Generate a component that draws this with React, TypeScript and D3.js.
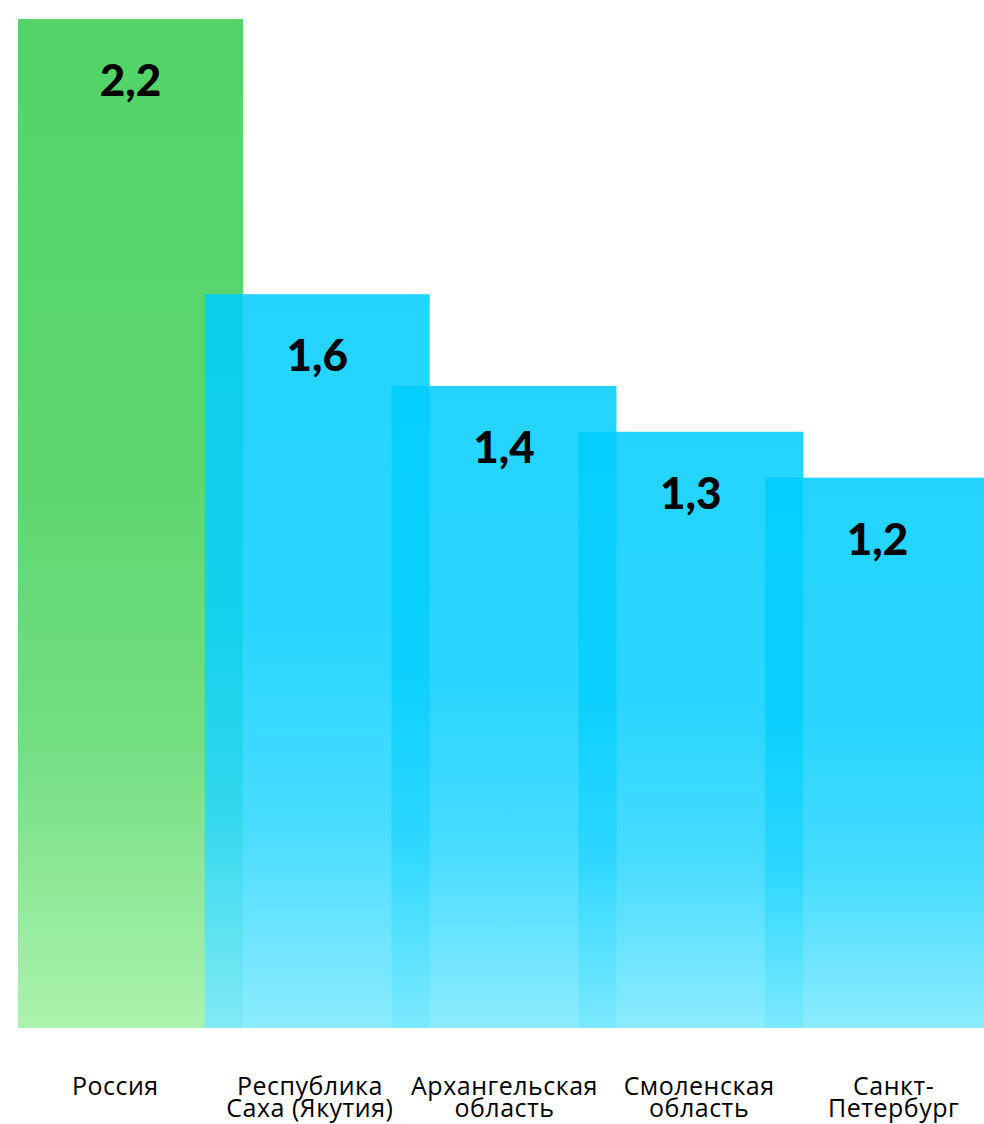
import React from "react";
import * as d3 from "d3";

const categories: string[][] = [
  ["Россия"],
  ["Республика", "Саха (Якутия)"],
  ["Архангельская", "область"],
  ["Смоленская", "область"],
  ["Санкт-", "Петербург"],
];
const values: number[] = [2.2, 1.6, 1.4, 1.3, 1.2];

const W = 984;
const H = 1124;

const ruLocale = d3.formatLocale({
  decimal: ",",
  thousands: " ",
  grouping: [3],
  currency: ["", " ₽"],
});
const fmt = ruLocale.format(".1f");

export default function App() {
  const y = d3.scaleLinear().domain([0, 2.2]).range([1028, 19]);
  const step = 186.75;
  const barW = 225;
  const x0 = 18;
  const barX = (i: number) => x0 + i * step;
  const labelScale = d3
    .scaleBand<number>()
    .domain(values.map((_, i) => i))
    .range([18, 991])
    .padding(0);

  return (
    <svg
      width={W}
      height={H}
      style={{ position: "absolute", left: 0, top: 0, display: "block" }}
    >
      <defs>
        <linearGradient id="gGreen" x1="0" y1="0" x2="0" y2="1">
          <stop offset="0" stopColor="#52d468" />
          <stop offset="0.45" stopColor="#5dd76e" />
          <stop offset="0.72" stopColor="#74de83" />
          <stop offset="1" stopColor="#abf3ae" />
        </linearGradient>
        <linearGradient id="gBlue" x1="0" y1="0" x2="0" y2="1">
          <stop offset="0" stopColor="rgb(0,205,255)" />
          <stop offset="0.45" stopColor="rgb(6,207,255)" />
          <stop offset="0.72" stopColor="rgb(41,214,255)" />
          <stop offset="1" stopColor="rgb(121,233,255)" />
        </linearGradient>
      </defs>
      {values.map((v, i) => (
        <rect
          key={"b" + i}
          x={barX(i)}
          y={y(v)}
          width={barW}
          height={y(0) - y(v)}
          fill={i === 0 ? "url(#gGreen)" : "url(#gBlue)"}
          fillOpacity={i === 0 ? 1 : 0.86}
        />
      ))}
      {values.map((v, i) => (
        <text
          key={"v" + i}
          x={barX(i) + barW / 2}
          y={y(v) + 77}
          textAnchor="middle"
          fontFamily="Lato, 'Open Sans', sans-serif"
          fontWeight={900}
          fontSize={44}
          fill="#000"
        >
          {fmt(v)}
        </text>
      ))}
      {categories.map((lines, i) => (
        <text
          key={"c" + i}
          x={(labelScale(i) as number) + labelScale.bandwidth() / 2}
          y={1095}
          textAnchor="middle"
          fontFamily="'Open Sans', sans-serif"
          fontSize={25}
          letterSpacing={0.5}
          fill="#000"
        >
          {lines.map((l, j) => (
            <tspan
              key={j}
              x={(labelScale(i) as number) + labelScale.bandwidth() / 2}
              dy={j === 0 ? 0 : 22}
            >
              {l}
            </tspan>
          ))}
        </text>
      ))}
    </svg>
  );
}
